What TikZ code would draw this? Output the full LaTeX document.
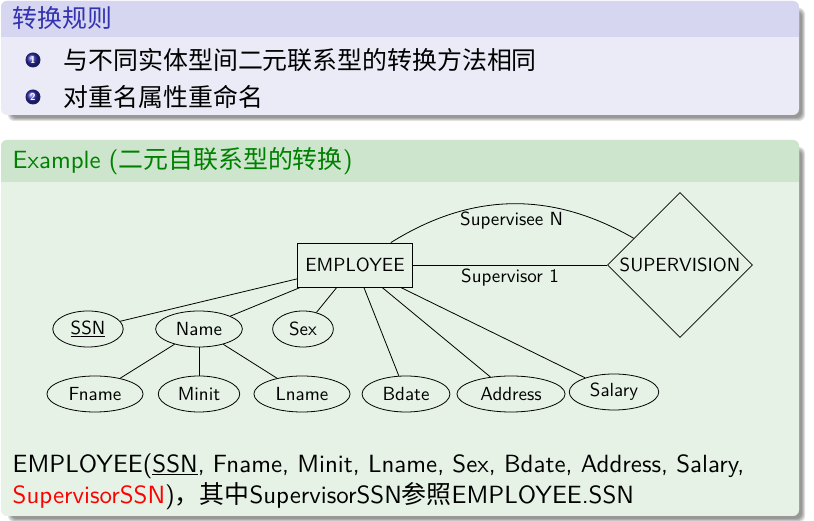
\documentclass[tikz,border=0pt]{standalone}
\usepackage{fontspec}
\setsansfont{lmsans10-regular.otf}[BoldFont=lmsans10-bold.otf,ItalicFont=lmsans10-oblique.otf]
\renewcommand{\familydefault}{\sfdefault}
\newfontfamily\cjk{Noto Sans CJK SC}
\usepackage{xcolor}
\definecolor{mystruct}{rgb}{0.2,0.2,0.7}
\definecolor{mygreen}{rgb}{0,0.5,0}
\colorlet{rulestitle}{mystruct!20!white}
\colorlet{rulesbody}{mystruct!10!white}
\colorlet{exatitle}{mygreen!20!white}
\colorlet{exabody}{mygreen!10!white}
\usepackage{tikz}
\usetikzlibrary{shapes.geometric}
\newcommand{\DrawBlock}[6]{
\foreach \k in {0,1,2,3}
  \fill[black,opacity=0.12,rounded corners=6pt]
    (#1+10-\k,#2-3-\k) rectangle (#3+3+\k,#4-10+\k);
\fill[#6body,rounded corners=6pt] (#1,#2) rectangle (#3,#4);
\fill[#6title,rounded corners=6pt] (#1,#5) rectangle (#3,#4);
\fill[#6title] (#1,#5) rectangle (#3,#5+8);}

\begin{document}
\begin{tikzpicture}[x=1pt,y=1pt,line width=0.8pt]
	\tikzstyle{ball}=[circle,inner sep=0pt,minimum size=15pt,text=white,font=\fontsize{10}{10}\selectfont\bfseries];
	\tikzstyle{ent}=[draw,rectangle,minimum width=115,minimum height=44,inner sep=0pt,font=\erfont];
	\tikzstyle{rel}=[draw,diamond,aspect=1,minimum width=145,minimum height=145,inner sep=0pt,font=\erfont];
	\tikzstyle{attr}=[draw,ellipse,minimum height=36,inner xsep=7.6pt,inner ysep=2pt,font=\erfont];
	\tikzstyle{lab}=[font=\erfont,inner sep=1pt];
	\newcommand{\erfont}{\fontsize{19}{22}\selectfont}
	\newcommand{\txtfont}{\fontsize{24.9}{31}\selectfont}
	\useasboundingbox (0,0) rectangle (814,521);
	%%
	\DrawBlock{1}{406}{799}{520}{484}{rules}
	\DrawBlock{1}{5}{799}{381}{339}{exa}
	%%
	\node[anchor=west,text=mystruct,font=\txtfont\cjk] (rtitle) at (9,503) {转换规则};
	\fill[mystruct!60!black] (33,461) circle[radius=7.5];
	\fill[mystruct!60!black] (33,424) circle[radius=7.5];
	\shade[ball color=mystruct] (33,461) circle[radius=6.5];
	\shade[ball color=mystruct] (33,424) circle[radius=6.5];
	\node[ball] (b1) at (33,461) {1};
	\node[ball] (b2) at (33,424) {2};
	\node[anchor=west,font=\txtfont\cjk] (r1) at (60,461) {与不同实体型间二元联系型的转换方法相同};
	\node[anchor=west,font=\txtfont\cjk] (r2) at (60,424) {对重名属性重命名};
	\node[anchor=west,text=mygreen,font=\txtfont] (etitle) at (9,360) {Example ({\cjk 二元自联系型的转换})};
	%%
	\node[ent] (emp) at (355,256) {EMPLOYEE};
	\node[rel] (sup) at (680,256) {SUPERVISION};
	\node[attr] (ssn) at (88,192) {\underline{SSN}};
	\node[attr] (name) at (199,192) {Name};
	\node[attr] (sex) at (303,192) {Sex};
	\node[attr] (fname) at (95,127) {Fname};
	\node[attr] (minit) at (199,127) {Minit};
	\node[attr] (lname) at (302,127) {Lname};
	\node[attr] (bdate) at (406,127) {Bdate};
	\node[attr] (address) at (511,127) {Address};
	\node[attr] (salary) at (614,129) {Salary};
	%%
	\draw (emp) -- (sup) node[lab,midway,below=3pt] {Supervisor 1};
	\draw (emp) to[out=32,in=150] node[lab,midway,below=7pt] {Supervisee N} (sup);
	\foreach \a in {ssn,name,sex,bdate,address,salary}
		\draw (emp) -- (\a);
	\foreach \a in {fname,minit,lname}
		\draw (name) -- (\a);
	%%
	\node[anchor=west,align=left,font=\txtfont] (schema) at (9,39.5)
		{EMPLOYEE(\underline{SSN}, Fname, Minit, Lname, Sex, Bdate, Address, Salary,\\
		{\color{red}SupervisorSSN}){\cjk ，其中}SupervisorSSN{\cjk 参照}EMPLOYEE.SSN};
\end{tikzpicture}
\end{document}
